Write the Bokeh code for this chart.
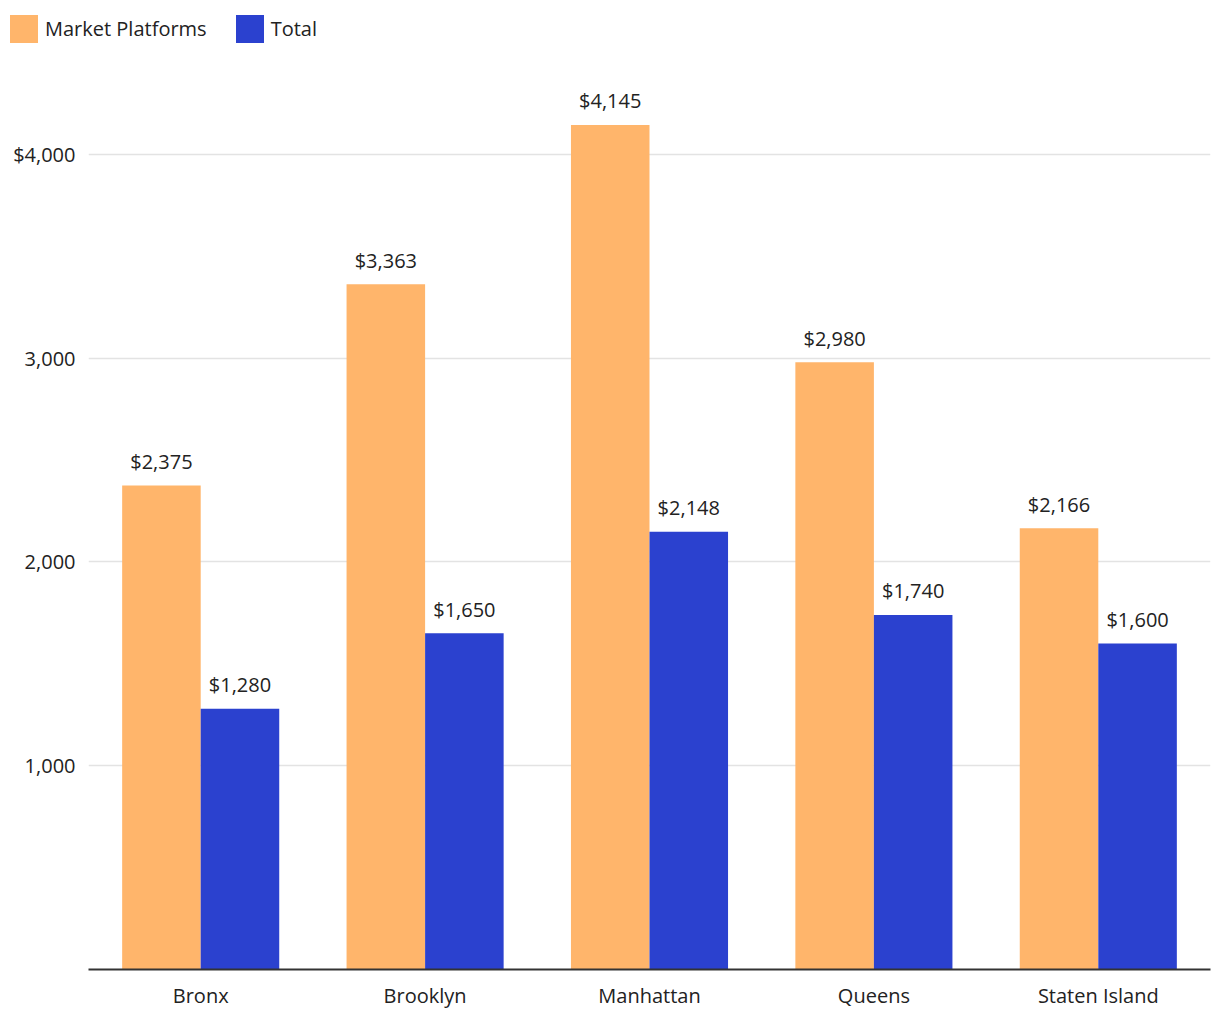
from bokeh.plotting import figure
from bokeh.models import FactorRange, Range1d, FixedTicker, Legend, LegendItem, ColumnDataSource
from bokeh.layouts import column
from bokeh.transform import dodge
from bokeh.core.properties import value
from bokeh.embed import file_html
from bokeh.resources import INLINE

boroughs = ["Bronx", "Brooklyn", "Manhattan", "Queens", "Staten Island"]
market_platforms = [2375, 3363, 4145, 2980, 2166]
total = [1280, 1650, 2148, 1740, 1600]
y_ticks = [1000, 2000, 3000, 4000]
y_tick_labels = {1000: "1,000", 2000: "2,000", 3000: "3,000", 4000: "$4,000"}
series_names = ["Market Platforms", "Total"]
colors = ["#ffb56b", "#2b41cf"]

FONT = "Open Sans"
FS = "20px"
TXT = "#222222"

src = ColumnDataSource(dict(
    cat=boroughs,
    mp=market_platforms,
    tot=total,
    mp_lbl=["${:,}".format(v) for v in market_platforms],
    tot_lbl=["${:,}".format(v) for v in total],
))

p = figure(
    x_range=FactorRange(factors=boroughs, range_padding=0),
    y_range=Range1d(0, 4461),
    width=1212, height=961,
    output_backend="svg", toolbar_location=None,
    min_border_left=88, min_border_right=2, min_border_top=10, min_border_bottom=41,
)
p.frame_align = False

r1 = p.vbar(x=dodge("cat", -0.175, range=p.x_range), top="mp", width=0.35, source=src,
            fill_color=colors[0], line_color=None)
r2 = p.vbar(x=dodge("cat", 0.175, range=p.x_range), top="tot", width=0.35, source=src,
            fill_color=colors[1], line_color=None)

for col, lbl, off in [("mp", "mp_lbl", -0.175), ("tot", "tot_lbl", 0.175)]:
    p.text(x=dodge("cat", off, range=p.x_range), y=col, text=lbl, source=src,
           text_align="center", text_baseline="alphabetic", y_offset=-24,
           text_font=value(FONT), text_font_size=FS, text_color=TXT)

p.outline_line_color = None
p.xgrid.grid_line_color = None
p.ygrid.grid_line_color = "#e3e3e3"
p.ygrid.grid_line_width = 1.5

p.yaxis.ticker = FixedTicker(ticks=y_ticks)
p.yaxis.major_label_overrides = y_tick_labels
p.yaxis.axis_line_color = None
p.yaxis.major_tick_line_color = None
p.yaxis.minor_tick_line_color = None
p.yaxis.major_label_standoff = 7
p.yaxis.major_label_text_font = FONT
p.yaxis.major_label_text_font_size = FS
p.yaxis.major_label_text_color = TXT

p.xaxis.axis_line_color = "#333333"
p.xaxis.axis_line_width = 2
p.xaxis.major_tick_line_color = None
p.xaxis.minor_tick_line_color = None
p.xaxis.major_label_standoff = 6
p.xaxis.major_label_text_font = FONT
p.xaxis.major_label_text_font_size = FS
p.xaxis.major_label_text_color = TXT

# legend strip above the chart (its zero-width bars stay out of view; only the swatches show)
lg = figure(
    x_range=FactorRange(factors=boroughs), y_range=Range1d(-2, -1),
    width=1212, height=50,
    output_backend="svg", toolbar_location=None,
    min_border_left=0, min_border_right=0, min_border_top=0, min_border_bottom=0,
)
lg.frame_align = False
lg.axis.visible = False
lg.grid.grid_line_color = None
lg.outline_line_color = None
d1 = lg.vbar(x="cat", top="mp", width=0, source=src, fill_color=colors[0], line_color=None)
d2 = lg.vbar(x="cat", top="tot", width=0, source=src, fill_color=colors[1], line_color=None)

legend = Legend(
    items=[LegendItem(label=series_names[0], renderers=[d1]),
           LegendItem(label=series_names[1], renderers=[d2])],
    orientation="horizontal",
    location=(6, 4),
    glyph_width=35, glyph_height=35, label_standoff=4, spacing=25,
    padding=0, margin=0,
    border_line_color=None, background_fill_alpha=0,
    label_text_font=FONT, label_text_font_size=FS, label_text_color=TXT,
    label_text_baseline="middle",
)
lg.add_layout(legend)

layout = column(lg, p, spacing=0)
open("out.html", "w").write(file_html(layout, INLINE))
